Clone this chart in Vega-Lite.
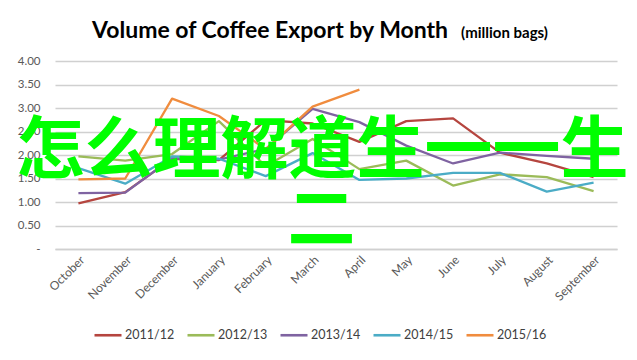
{
  "$schema": "https://vega.github.io/schema/vega-lite/v6.json",
  "autosize": "none",
  "width": 562,
  "height": 188,
  "padding": {"left": 55, "top": 61, "right": 20, "bottom": 111},
  "background": "white",
  "resolve": {"axis": {"x": "independent", "y": "independent"}},
  "layer": [
    {
      "data": {
        "values": [
          {"month": "October", "season": "2011/12", "value": 0.97},
          {"month": "November", "season": "2011/12", "value": 1.21},
          {"month": "December", "season": "2011/12", "value": 1.92},
          {"month": "January", "season": "2011/12", "value": 1.89},
          {"month": "February", "season": "2011/12", "value": 2.74},
          {"month": "March", "season": "2011/12", "value": 2.67},
          {"month": "April", "season": "2011/12", "value": 2.28},
          {"month": "May", "season": "2011/12", "value": 2.72},
          {"month": "June", "season": "2011/12", "value": 2.78},
          {"month": "July", "season": "2011/12", "value": 2.05},
          {"month": "August", "season": "2011/12", "value": 1.82},
          {"month": "September", "season": "2011/12", "value": 1.53},
          {"month": "October", "season": "2012/13", "value": 1.97},
          {"month": "November", "season": "2012/13", "value": 1.88},
          {"month": "December", "season": "2012/13", "value": 2.02},
          {"month": "January", "season": "2012/13", "value": 2.72},
          {"month": "February", "season": "2012/13", "value": 1.76},
          {"month": "March", "season": "2012/13", "value": 2.34},
          {"month": "April", "season": "2012/13", "value": 1.70},
          {"month": "May", "season": "2012/13", "value": 1.88},
          {"month": "June", "season": "2012/13", "value": 1.35},
          {"month": "July", "season": "2012/13", "value": 1.59},
          {"month": "August", "season": "2012/13", "value": 1.53},
          {"month": "September", "season": "2012/13", "value": 1.23},
          {"month": "October", "season": "2013/14", "value": 1.19},
          {"month": "November", "season": "2013/14", "value": 1.20},
          {"month": "December", "season": "2013/14", "value": 1.93},
          {"month": "January", "season": "2013/14", "value": 1.90},
          {"month": "February", "season": "2013/14", "value": 2.13},
          {"month": "March", "season": "2013/14", "value": 2.98},
          {"month": "April", "season": "2013/14", "value": 2.70},
          {"month": "May", "season": "2013/14", "value": 2.20},
          {"month": "June", "season": "2013/14", "value": 1.82},
          {"month": "July", "season": "2013/14", "value": 2.05},
          {"month": "August", "season": "2013/14", "value": 1.98},
          {"month": "September", "season": "2013/14", "value": 1.92},
          {"month": "October", "season": "2014/15", "value": 1.72},
          {"month": "November", "season": "2014/15", "value": 1.39},
          {"month": "December", "season": "2014/15", "value": 1.97},
          {"month": "January", "season": "2014/15", "value": 1.92},
          {"month": "February", "season": "2014/15", "value": 1.55},
          {"month": "March", "season": "2014/15", "value": 2.04},
          {"month": "April", "season": "2014/15", "value": 1.47},
          {"month": "May", "season": "2014/15", "value": 1.50},
          {"month": "June", "season": "2014/15", "value": 1.62},
          {"month": "July", "season": "2014/15", "value": 1.62},
          {"month": "August", "season": "2014/15", "value": 1.22},
          {"month": "September", "season": "2014/15", "value": 1.41},
          {"month": "October", "season": "2015/16", "value": 1.48},
          {"month": "November", "season": "2015/16", "value": 1.50},
          {"month": "December", "season": "2015/16", "value": 3.20},
          {"month": "January", "season": "2015/16", "value": 2.83},
          {"month": "February", "season": "2015/16", "value": 2.12},
          {"month": "March", "season": "2015/16", "value": 3.03},
          {"month": "April", "season": "2015/16", "value": 3.39}
        ]
      },
      "mark": {"type": "line", "strokeWidth": 2.3, "strokeJoin": "round"},
      "encoding": {
        "x": {
          "field": "month",
          "type": "ordinal",
          "scale": {"domain": ["October", "November", "December", "January", "February", "March", "April", "May", "June", "July", "August", "September"], "paddingInner": 0, "paddingOuter": 0},
          "axis": {
            "title": null,
            "labelAngle": -45,
            "labelFont": "Lato",
            "labelFontSize": 12,
            "labelColor": "#595959",
            "ticks": false,
            "domainColor": "#D0D0D0",
            "domainWidth": 1.5,
            "labelPadding": 5
          }
        },
        "y": {
          "field": "value",
          "type": "quantitative",
          "scale": {"domain": [0, 4], "nice": false},
          "axis": {
            "title": null,
            "values": [0, 0.5, 1, 1.5, 2, 2.5, 3, 3.5, 4],
            "labelOverlap": false,
            "labelExpr": "datum.value === 0 ? '-\u00a0\u00a0\u00a0\u00a0\u00a0' : format(datum.value, '.2f')",
            "labelFont": "Lato",
            "labelFontSize": 11.5,
            "labelColor": "#595959",
            "labelPadding": 15,
            "ticks": false,
            "domain": false,
            "gridColor": "#D0D0D0",
            "gridWidth": 1.5
          }
        },
        "color": {
          "field": "season",
          "type": "nominal",
          "scale": {
            "domain": ["2011/12", "2012/13", "2013/14", "2014/15", "2015/16"],
            "range": ["#B5453F", "#9BBB59", "#7F63A1", "#4BACC6", "#F08C3E"]
          },
          "legend": {
            "title": null,
            "orient": "none",
            "legendX": 38,
            "legendY": 259,
            "direction": "horizontal",
            "symbolType": "stroke",
            "symbolSize": 729,
            "symbolStrokeWidth": 2.6,
            "labelFont": "Lato",
            "labelFontSize": 12.5,
            "labelColor": "#404040",
            "labelOffset": 2,
            "columnPadding": 7
          }
        }
      }
    },
    {
      "data": {"values": [{"label": "Volume of Coffee Export by Month"}]},
      "mark": {"type": "text", "align": "right", "baseline": "alphabetic", "font": "Lato", "fontSize": 23, "fontWeight": "bold", "color": "#000000", "dx": -5},
      "encoding": {
        "x": {"datum": "June", "type": "ordinal", "axis": null},
        "y": {"datum": 4.48, "type": "quantitative", "axis": null},
        "text": {"field": "label"}
      }
    },
    {
      "data": {"values": [{"label": "(million bags)"}]},
      "mark": {"type": "text", "align": "left", "baseline": "alphabetic", "font": "Lato", "fontSize": 15, "fontWeight": "bold", "color": "#000000", "dx": 8},
      "encoding": {
        "x": {"datum": "June", "type": "ordinal", "axis": null},
        "y": {"datum": 4.48, "type": "quantitative", "axis": null},
        "text": {"field": "label"}
      }
    },
    {
      "data": {"values": [{"label": "怎么理解道生一一生"}]},
      "mark": {"type": "text", "align": "center", "baseline": "middle", "font": "Noto Sans CJK SC", "fontSize": 68, "fontWeight": "bold", "color": "#00FF00", "dx": 10},
      "encoding": {
        "x": {"datum": "March", "type": "ordinal", "axis": null},
        "y": {"datum": 2.05, "type": "quantitative", "axis": null},
        "text": {"field": "label"}
      }
    },
    {
      "data": {"values": [{"label": "二"}]},
      "mark": {"type": "text", "align": "center", "baseline": "middle", "font": "Noto Sans CJK SC", "fontSize": 68, "fontWeight": "bold", "color": "#00FF00", "dx": 9},
      "encoding": {
        "x": {"datum": "March", "type": "ordinal", "axis": null},
        "y": {"datum": 0.56, "type": "quantitative", "axis": null},
        "text": {"field": "label"}
      }
    }
  ],
  "config": {
    "view": {"stroke": null}
  }
}
